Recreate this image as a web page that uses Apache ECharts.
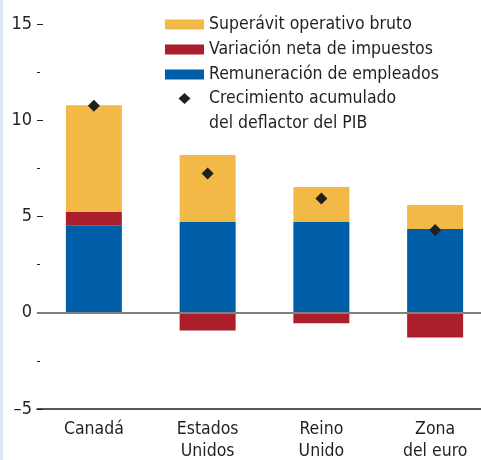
<!DOCTYPE html>
<html><head><meta charset="utf-8">
<script src="https://cdn.jsdelivr.net/npm/echarts@6/dist/echarts.min.js"></script>
<style>html,body{margin:0;padding:0;background:#fff}#c{width:481px;height:460px}</style>
</head><body><div id="c"></div>
<script>
const categories = ['Canadá', 'Estados\nUnidos', 'Reino\nUnido', 'Zona\ndel euro'];
const remuneracion = [4.55, 4.72, 4.72, 4.35];
const impuestos = [0.68, -0.92, -0.55, -1.28];
const superavit = [5.55, 3.47, 1.81, 1.25];
const deflactor = [10.75, 7.24, 5.94, 4.30];
const yTicks = [-5, 0, 5, 10, 15];

const FONT = '"DejaVu Sans Condensed", "Liberation Sans Narrow", sans-serif';
const TXT = '#231f20';
const DIAMOND = 'path://M0 0L0.01 0M39 36L38.99 36M19.5 0L25.5 5.5L19.5 11L13.5 5.5Z';
const chart = echarts.init(document.getElementById('c'), null, {renderer: 'canvas'});
chart.setOption({
  animation: false,
  backgroundColor: '#fff',
  textStyle: {fontFamily: FONT},
  graphic: [{type: 'rect', left: 0, top: 0, shape: {width: 3, height: 460}, style: {fill: '#dde7f3'}, z: 100}],
  grid: {left: 37, width: 455, top: 24, bottom: 51, containLabel: false, outerBoundsMode: 'none'},
  legend: [{
    orient: 'vertical', left: 160, top: 7, itemWidth: 39, itemHeight: 10, itemGap: 0,
    icon: 'rect',
    data: ['Superávit operativo bruto', 'Variación neta de impuestos', 'Remuneración de empleados'],
    textStyle: {fontFamily: FONT, fontSize: 17.5, color: TXT, lineHeight: 25},
    itemStyle: {borderWidth: 0}
  }, {
    orient: 'vertical', left: 160, top: 81, itemWidth: 39, itemHeight: 36, itemGap: 0,
    data: [{name: 'Crecimiento acumulado\ndel deflactor del PIB', icon: DIAMOND}],
    textStyle: {fontFamily: FONT, fontSize: 17.5, color: TXT, lineHeight: 25},
    itemStyle: {opacity: 1}
  }],
  xAxis: {
    type: 'category', data: categories,
    axisLine: {onZero: false, lineStyle: {color: '#231f20', width: 1.5}},
    axisTick: {show: false},
    axisLabel: {fontFamily: FONT, fontSize: 17.5, color: TXT, lineHeight: 22, margin: 9}
  },
  yAxis: {
    type: 'value', min: -5, max: 15, interval: 5,
    axisLine: {show: false},
    axisTick: {show: true, inside: true, length: 6, lineStyle: {color: TXT, width: 1}},
    minorTick: {show: true, splitNumber: 2, length: 3, lineStyle: {color: TXT, width: 1}},
    splitLine: {show: false},
    axisLabel: {fontFamily: FONT, fontSize: 18, color: TXT, margin: 5,
      formatter: v => yTicks.includes(v) ? String(v).replace('-', '–') : ''}
  },
  series: [
    {name: 'Remuneración de empleados', type: 'bar', stack: 's', data: remuneracion, barWidth: 56,
     itemStyle: {color: '#005da8'},
     markLine: {silent: true, symbol: 'none', label: {show: false},
       lineStyle: {color: '#808080', width: 2, type: 'solid'}, data: [{yAxis: 0}]}},
    {name: 'Variación neta de impuestos', type: 'bar', stack: 's', data: impuestos, barWidth: 56,
     itemStyle: {color: '#ab1f2d'}},
    {name: 'Superávit operativo bruto', type: 'bar', stack: 's', data: superavit, barWidth: 56,
     itemStyle: {color: '#f3b947'}},
    {name: 'Crecimiento acumulado\ndel deflactor del PIB', type: 'scatter', data: deflactor,
     symbol: 'diamond', symbolSize: 12, itemStyle: {color: '#231f20', opacity: 1}, z: 5}
  ]
});
</script></body></html>
